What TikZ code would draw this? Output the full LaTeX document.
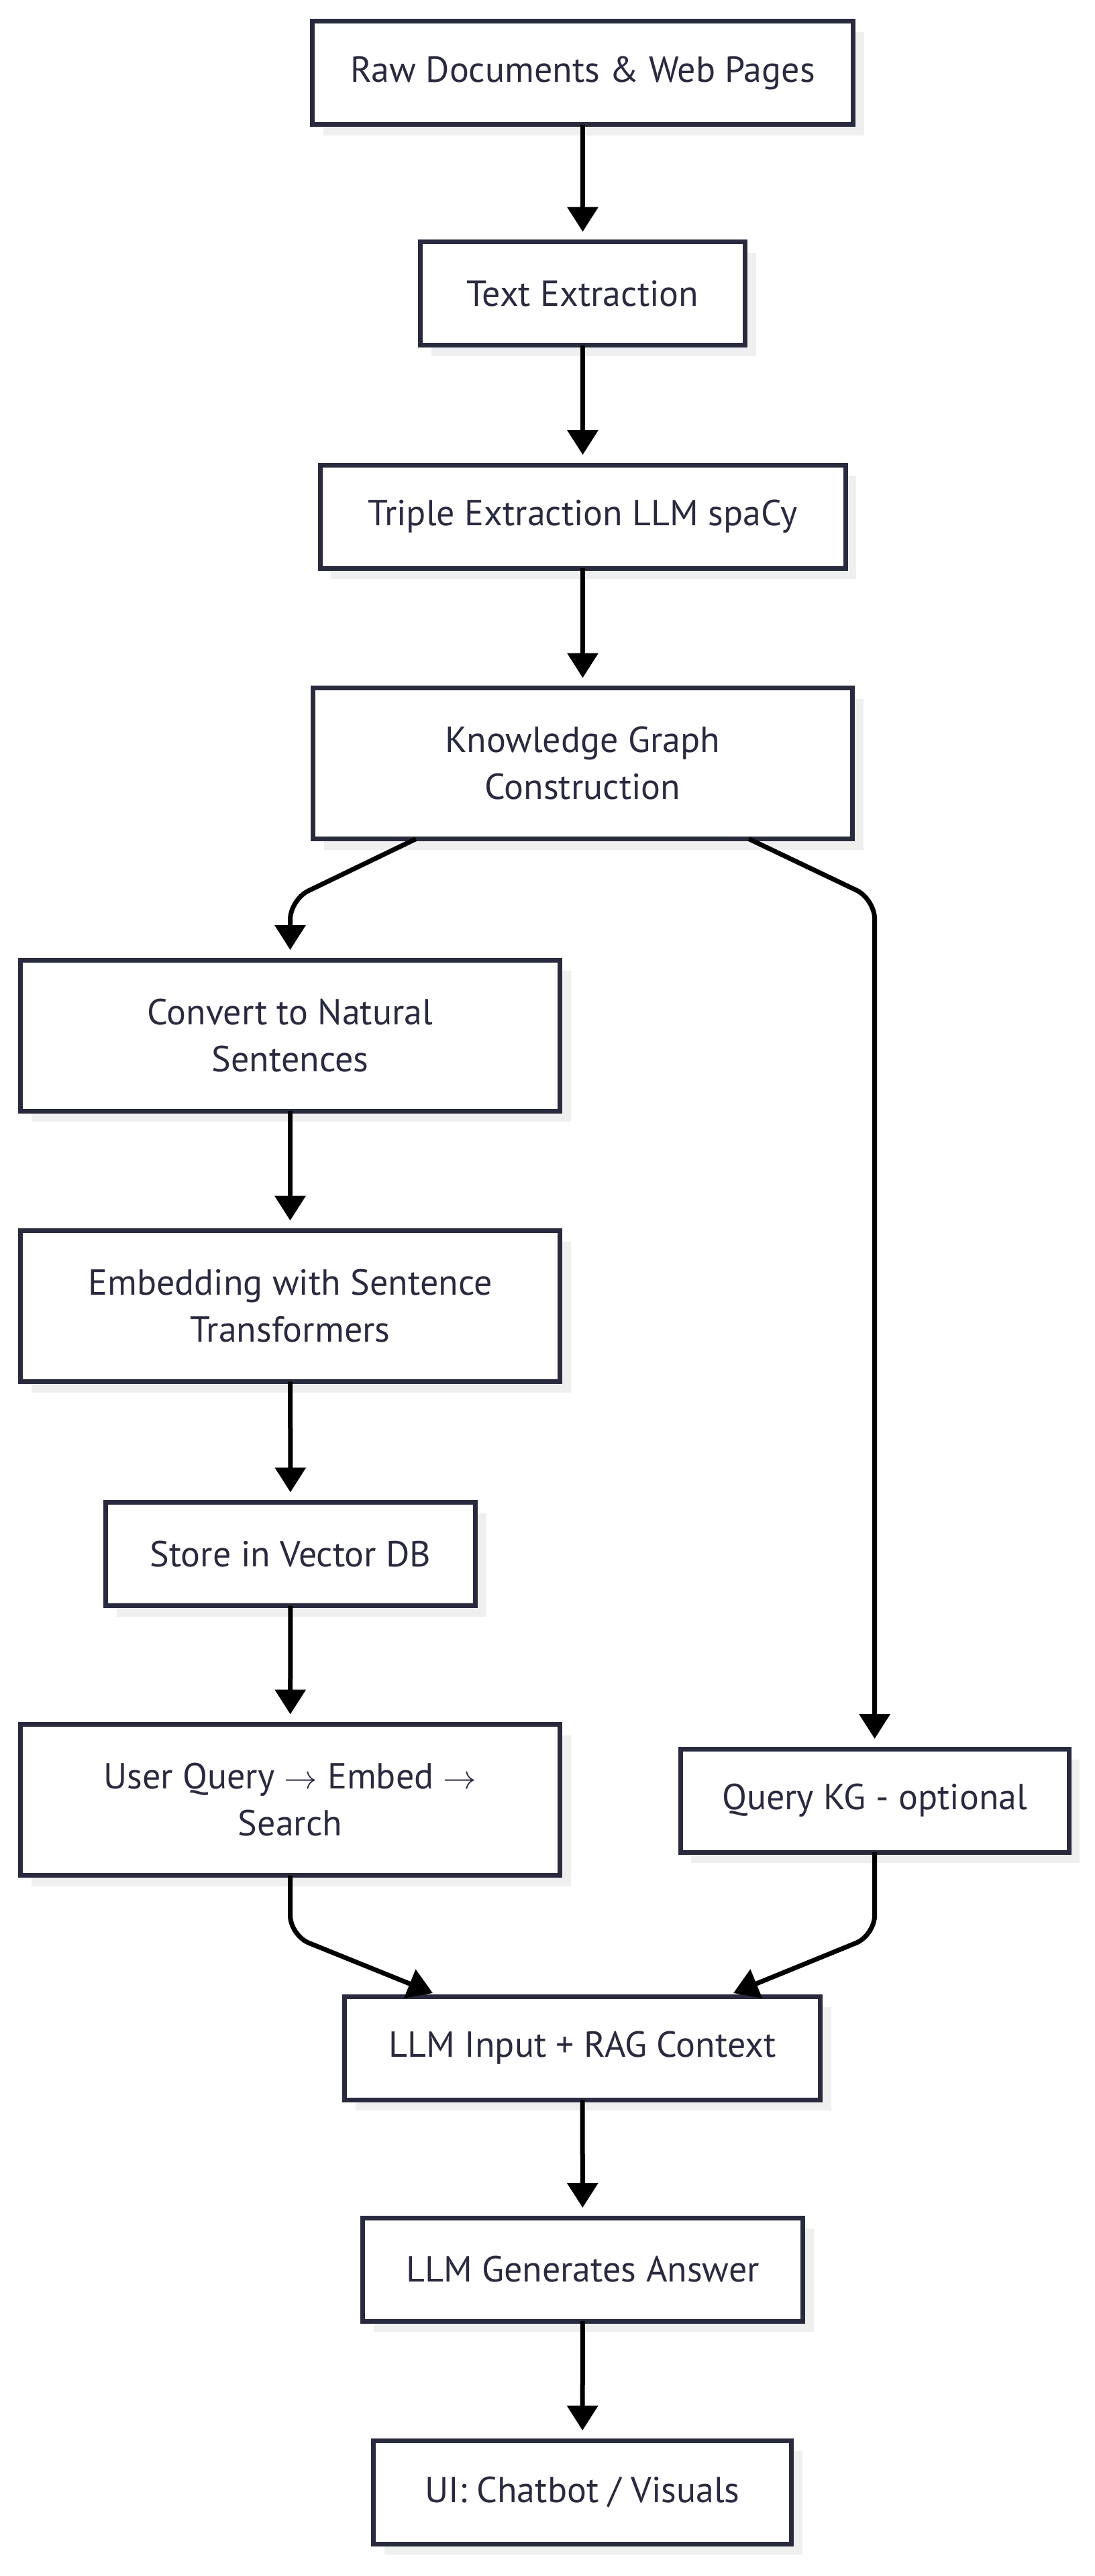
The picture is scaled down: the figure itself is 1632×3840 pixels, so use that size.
\documentclass[tikz,border=0pt]{standalone}
\usepackage{fontspec}
\setmainfont{PT Sans}
\usetikzlibrary{arrows.meta,shadows,calc}
\definecolor{boxline}{HTML}{2A2A3F}
\definecolor{shadowgray}{HTML}{EFEFEF}
\begin{document}
\begin{tikzpicture}[x=0.5pt,y=-0.5pt,
  box/.style={draw=boxline, line width=3.5pt, fill=white, text=boxline,
    outer sep=0pt, inner sep=0pt, align=center,
    font=\fontsize{27}{35}\selectfont,
    general shadow={fill=shadowgray, draw=none, shadow xshift=8pt, shadow yshift=-8pt}},
  onebox/.style={box, minimum height=77pt},
  twobox/.style={box, minimum height=112.5pt},
  arrline/.style={line width=3.5pt, draw=black, -{Triangle[length=18.5pt,width=22.5pt]}},
  downarr/.style={arrline, shorten >=7.5pt},
  bendarr/.style={arrline, rounded corners=15pt}]
\useasboundingbox (0,0) rectangle (1632,3840);
\fill[white] (0,0) rectangle (1632,3840);

\node[onebox, minimum width=403pt] (raw) at (868.5,108.5) {Raw Documents \& Web Pages};
\node[onebox, minimum width=242pt] (text) at (868.5,437.5) {Text Extraction};
\node[onebox, minimum width=391.5pt] (triple) at (868.5,770) {Triple Extraction LLM spaCy};
\node[twobox, minimum width=402pt] (kg) at (868.5,1138) {Knowledge Graph\\Construction};
\node[twobox, minimum width=402pt] (conv) at (432.5,1543.5) {Convert to Natural\\Sentences};
\node[twobox, minimum width=402pt] (emb) at (432.5,1947) {Embedding with Sentence\\Transformers};
\node[onebox, minimum width=275.5pt] (store) at (433,2316.5) {Store in Vector DB};
\node[twobox, minimum width=402pt] (uq) at (432.5,2683) {User Query $\rightarrow$ Embed $\rightarrow$\\Search};
\node[onebox, minimum width=289.5pt] (qkg) at (1303.6,2684) {Query KG - optional};
\node[onebox, minimum width=354.5pt] (llmin) at (868,3053) {LLM Input + RAG Context};
\node[onebox, minimum width=328pt] (gen) at (868.5,3383) {LLM Generates Answer};
\node[onebox, minimum width=311.5pt] (ui) at (868,3715) {UI: Chatbot / Visuals};

\coordinate (c1) at (432.5,1341);
\coordinate (c2) at (1303.6,1340);
\coordinate (c3) at (432.5,2885);
\coordinate (c4) at (1303.6,2885);

\draw[downarr] (raw) -- (text);
\draw[downarr] (text) -- (triple);
\draw[downarr] (triple) -- (kg);
\draw[bendarr, shorten >=7.5pt] (kg.south) ++(-248.5,0) -- (c1) -- (conv.north);
\draw[bendarr, shorten >=7.5pt] (kg.south) ++(247.5,0) -- (c2) -- (qkg.north);
\draw[downarr] (conv) -- (emb);
\draw[downarr] (emb) -- (store);
\draw[downarr] (store) -- (uq);
\draw[bendarr] (uq.south) -- (c3) -- ($(llmin.north)+(-223,-5)$);
\draw[bendarr] (qkg.south) -- (c4) -- ($(llmin.north)+(225,-5)$);
\draw[downarr] (llmin) -- (gen);
\draw[downarr] (gen) -- (ui);
\end{tikzpicture}
\end{document}
